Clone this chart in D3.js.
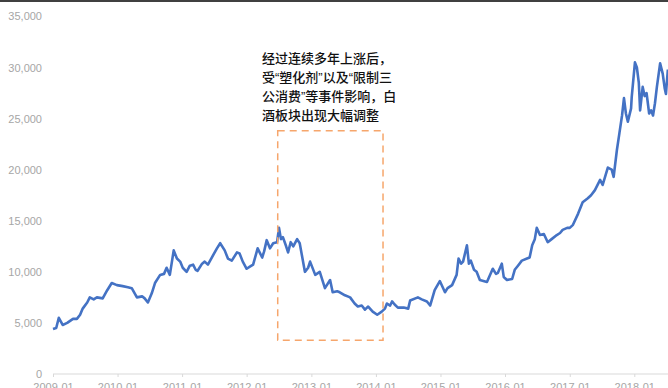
<!DOCTYPE html>
<html>
<head>
<meta charset="utf-8">
<script src="https://cdn.jsdelivr.net/npm/d3@7"></script>
<style>
  html, body { margin: 0; padding: 0; background: #fff; }
  #chart { width: 668px; height: 388px; overflow: hidden; }
</style>
</head>
<body>
<div id="chart"></div>
<script>
// Time points as decimal years
const years = [
  2009.00, 2009.05, 2009.09, 2009.15, 2009.22, 2009.31, 2009.37, 2009.42, 2009.46, 2009.53,
  2009.57, 2009.63, 2009.68, 2009.77, 2009.84, 2009.91, 2009.99, 2010.08, 2010.16, 2010.22,
  2010.30, 2010.38, 2010.42, 2010.47, 2010.53, 2010.58, 2010.66, 2010.72, 2010.76, 2010.81,
  2010.87, 2010.92, 2010.97, 2011.01, 2011.07, 2011.12, 2011.17, 2011.21, 2011.24, 2011.31,
  2011.35, 2011.40, 2011.46, 2011.54, 2011.59, 2011.66, 2011.71, 2011.77, 2011.85, 2011.89,
  2011.94, 2012.00, 2012.05, 2012.10, 2012.17, 2012.24, 2012.27, 2012.31, 2012.36, 2012.41,
  2012.47, 2012.50, 2012.53, 2012.56, 2012.61, 2012.64, 2012.68, 2012.72, 2012.78, 2012.82,
  2012.90, 2012.95, 2012.98, 2013.06, 2013.13, 2013.21, 2013.29, 2013.33, 2013.40, 2013.44,
  2013.52, 2013.60, 2013.67, 2013.72, 2013.78, 2013.83, 2013.88, 2013.95, 2014.02, 2014.09,
  2014.14, 2014.17, 2014.22, 2014.25, 2014.29, 2014.34, 2014.43, 2014.50, 2014.53, 2014.65,
  2014.71, 2014.79, 2014.84, 2014.91, 2014.99, 2015.07, 2015.11, 2015.18, 2015.25, 2015.28,
  2015.32, 2015.35, 2015.41, 2015.44, 2015.47, 2015.52, 2015.56, 2015.61, 2015.72, 2015.81,
  2015.86, 2015.89, 2015.95, 2015.98, 2016.03, 2016.11, 2016.15, 2016.20, 2016.26, 2016.34,
  2016.38, 2016.42, 2016.46, 2016.49, 2016.54, 2016.60, 2016.66, 2016.72, 2016.80, 2016.85,
  2016.89, 2016.96, 2017.00, 2017.05, 2017.13, 2017.20, 2017.28, 2017.33, 2017.39, 2017.47,
  2017.51, 2017.59, 2017.65, 2017.68, 2017.73, 2017.77, 2017.81, 2017.84, 2017.87, 2017.90,
  2017.95, 2017.96, 2018.01, 2018.04, 2018.07, 2018.09, 2018.13, 2018.16, 2018.19, 2018.23,
  2018.26, 2018.29, 2018.32, 2018.35, 2018.40, 2018.44, 2018.47, 2018.49, 2018.52
];

// Index level
const values = [
  4400, 4500, 5500, 4800, 5000, 5400, 5400, 5800, 6400, 7000,
  7500, 7300, 7500, 7400, 8200, 8900, 8700, 8600, 8500, 8400,
  7500, 7600, 7400, 7000, 7900, 8900, 9700, 9800, 10400, 9700,
  12100, 11300, 11000, 10400, 10000, 10600, 10700, 10200, 10100, 10800,
  11000, 10700, 11400, 12300, 12800, 12100, 11300, 11100, 11900, 11800,
  11000, 10300, 10500, 10700, 12300, 11400, 12000, 13100, 12300, 12800,
  12900, 14300, 13200, 13400, 12500, 11900, 12900, 12500, 13200, 12800,
  10000, 10400, 11000, 9700, 10000, 8400, 9200, 8000, 8100, 8000,
  7700, 7500, 6900, 6600, 6700, 6300, 6600, 6100, 5800, 6100,
  6400, 6900, 6700, 7100, 6800, 6500, 6500, 6400, 7200, 7500,
  7300, 7100, 6700, 8200, 9100, 8000, 8400, 8700, 9700, 11300,
  10800, 11000, 12600, 10800, 11100, 10200, 10000, 9200, 9000, 10300,
  9800, 9900, 10800, 9500, 9200, 9300, 10200, 10600, 11100, 11300,
  11400, 12600, 13200, 14300, 13600, 13700, 12900, 13200, 13600, 13800,
  14100, 14300, 14300, 14600, 15700, 16800, 17200, 17500, 18000, 19000,
  18500, 20200, 20000, 19300, 21900, 23600, 25300, 27000, 25500, 24700,
  26000, 27100, 30500, 30000, 28500, 25800, 28100, 27200, 27500, 25500,
  25800, 25300, 26500, 28100, 30400, 29400, 28000, 27400, 29800
];

const yTicks = [0, 5000, 10000, 15000, 20000, 25000, 30000, 35000];
const xTickYears = [2009, 2010, 2011, 2012, 2013, 2014, 2015, 2016, 2017, 2018];

// Highlighted period (decimal years) and value range of the dashed box
const boxYears = [2012.48, 2014.11];
const boxValues = [3300, 23800];

const noteLines = [
  "经过连续多年上涨后，",
  "受“塑化剂”以及“限制三",
  "公消费”等事件影响，白",
  "酒板块出现大幅调整"
];

const width = 668, height = 388;

function toDate(t) {
  const y = Math.floor(t);
  const start = new Date(y, 0, 1);
  const end = new Date(y + 1, 0, 1);
  return new Date(+start + (t - y) * (end - start));
}

const data = years.map((t, i) => ({ date: toDate(t), value: values[i] }));

const svg = d3.select("#chart").append("svg")
  .attr("width", width)
  .attr("height", height)
  .style("font-family", "'Noto Sans', 'Noto Sans CJK SC', sans-serif");

const x = d3.scaleTime()
  .domain([new Date(2009, 0, 1), new Date(2018, 0, 1)])
  .range([53, 634.3]);

const y = d3.scaleLinear()
  .domain([0, 35000])
  .range([374, 16.4]);

// Top border line
svg.append("line")
  .attr("x1", 0).attr("x2", width)
  .attr("y1", 1).attr("y2", 1)
  .attr("stroke", "#000")
  .attr("stroke-width", 1.6);

// Y axis labels (no axis line)
const yAxis = svg.append("g")
  .attr("transform", "translate(42,0)")
  .call(d3.axisLeft(y).tickValues(yTicks).tickSize(0).tickPadding(0)
    .tickFormat(d3.format(",")));
yAxis.select(".domain").remove();
yAxis.selectAll("text")
  .attr("fill", "#a6a6a6")
  .style("font-size", "11px");

// X axis
const xAxis = svg.append("g")
  .attr("transform", "translate(0,374)")
  .call(d3.axisBottom(x)
    .tickValues(xTickYears.map(yr => new Date(yr, 0, 1)))
    .tickSize(3).tickPadding(6)
    .tickFormat(d3.timeFormat("%Y-%m")));
xAxis.select(".domain")
  .attr("d", `M53,0H${width}`)
  .attr("stroke", "#d9d9d9");
xAxis.selectAll(".tick line").attr("stroke", "#d9d9d9");
xAxis.selectAll("text")
  .attr("fill", "#a6a6a6")
  .style("font-size", "11px");

// Price line
const line = d3.line()
  .x(d => x(d.date))
  .y(d => y(d.value));

svg.append("path")
  .datum(data)
  .attr("fill", "none")
  .attr("stroke", "#4472c4")
  .attr("stroke-width", 2.6)
  .attr("stroke-linejoin", "round")
  .attr("d", line);

// Dashed highlight box
const bx0 = x(toDate(boxYears[0])), bx1 = x(toDate(boxYears[1]));
const by0 = y(boxValues[1]), by1 = y(boxValues[0]);
svg.append("rect")
  .attr("x", bx0).attr("y", by0)
  .attr("width", bx1 - bx0).attr("height", by1 - by0)
  .attr("fill", "none")
  .attr("stroke", "#f6a66c")
  .attr("stroke-width", 1.5)
  .attr("stroke-dasharray", "7,5");

// Annotation text (Latin font first so the quote marks stay narrow)
svg.append("text")
  .attr("x", 262)
  .attr("y", 63)
  .attr("fill", "#111")
  .style("font-family", "'Liberation Sans', 'Noto Sans CJK SC', sans-serif")
  .style("font-size", "13px")
  .style("font-weight", 500)
  .selectAll("tspan")
  .data(noteLines)
  .join("tspan")
  .attr("x", 262)
  .attr("dy", (d, i) => i === 0 ? 0 : 19)
  .text(d => d);
</script>
</body>
</html>
